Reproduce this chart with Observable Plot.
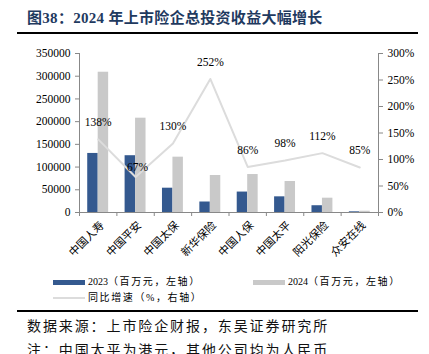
<!DOCTYPE html>
<html><head><meta charset="utf-8">
<script src="https://cdn.jsdelivr.net/npm/d3@7"></script>
<script src="https://cdn.jsdelivr.net/npm/@observablehq/plot@0.6"></script>
<style>
  html,body{margin:0;padding:0;background:#fff;}
  #wrap{position:relative;width:429px;height:354px;overflow:hidden;background:#fff;}
  #title{position:absolute;left:27px;top:6px;font:bold 15px "Liberation Serif","Noto Sans CJK SC",serif;color:#1f3a5f;white-space:nowrap;letter-spacing:0.3px;}
  .rule{position:absolute;left:17px;width:401px;height:2px;background:#000;}
  #chart{position:absolute;left:0;top:40px;}
  .lg{position:absolute;font:10px "Liberation Serif","Noto Sans CJK SC",serif;color:#000;white-space:nowrap;line-height:12px;}
  .lg .cn{letter-spacing:1.6px;}
  .sw{position:absolute;}
  .src{position:absolute;left:27px;font:14px "Noto Sans CJK SC",sans-serif;color:#111;letter-spacing:1.9px;white-space:nowrap;line-height:18px;}
</style>
</head><body>
<div id="wrap">
  <div id="title"></div>
  <div class="rule" style="top:32px"></div>
  <div id="chart"></div>
  <div id="legend"></div>
  <div class="rule" style="top:310px"></div>
  <div class="src" style="top:316px" id="src1"></div>
  <div class="src" style="top:340px" id="src2"></div>
</div>
<script>
const titleText = "图38：2024 年上市险企总投资收益大幅增长";
const categories = ["中国人寿","中国平安","中国太保","新华保险","中国人保","中国太平","阳光保险","众安在线"];
const values2023 = [130000,125000,53500,23100,45000,34500,14900,1500];
const values2024 = [308800,207600,121800,81400,83600,68200,31500,2800];
const growth = [138,67,130,252,86,98,112,85];
const leftTicks = [0,50000,100000,150000,200000,250000,300000,350000];
const rightTicks = [0,50,100,150,200,250,300];
const seriesNames = ["2023（百万元，左轴）","2024（百万元，左轴）","同比增速（%，右轴）"];
const sourceText = "数据来源：上市险企财报，东吴证券研究所";
const noteText = "注：中国太平为港元，其他公司均为人民币";

const colors = ["#34598f","#c9c9c9","#dcdcdc"];
const K = 350000/300; // right-axis to left-axis factor
const W = 0.28;       // bar width in band units

document.getElementById("title").textContent = titleText;
document.getElementById("src1").textContent = sourceText;
document.getElementById("src2").textContent = noteText;

const rows = categories.map((c,i)=>({i, c, v23: values2023[i], v24: values2024[i], g: growth[i]}));

const chart = Plot.plot({
  width: 429, height: 235,
  marginTop: 13, marginBottom: 63, marginLeft: 79, marginRight: 51,
  style: {fontFamily: "'Liberation Serif','Times New Roman',serif", fontSize: "11.5px", color: "#000", background: "transparent", overflow: "visible"},
  x: {type: "linear", domain: [0, categories.length]},
  y: {domain: [0, 350000]},
  marks: [
    Plot.rectY(rows, {x1: d => d.i + 0.5 - W, x2: d => d.i + 0.5, y: "v23", fill: colors[0]}),
    Plot.rectY(rows, {x1: d => d.i + 0.5, x2: d => d.i + 0.5 + W, y: "v24", fill: colors[1]}),
    Plot.line(rows, {x: d => d.i + 0.5, y: d => d.g * K, stroke: colors[2], strokeWidth: 2}),
    Plot.text(rows.filter(d => d.i !== 1), {x: d => d.i + 0.5, y: d => d.g * K, text: d => d.g + "%", dy: -17, fill: "#000"}),
    Plot.text(rows.filter(d => d.i === 1), {x: d => d.i + 0.5, y: d => d.g * K, text: d => d.g + "%", dy: -10, dx: 2, fill: "#000"}),
    Plot.ruleX([0], {stroke: "#888"}),
    Plot.ruleX([categories.length], {stroke: "#888"}),
    Plot.ruleY([0], {stroke: "#888"}),
    Plot.axisY({ticks: leftTicks, tickFormat: d => String(d), tickSize: 4, tickPadding: 5, label: null, stroke: "#888", fill: "#000"}),
    Plot.axisY({anchor: "right", ticks: rightTicks.map(v => v * K), tickFormat: d => Math.round(d / K) + "%", tickSize: 4, tickPadding: 5, label: null, stroke: "#888", fill: "#000"}),
    Plot.axisX({ticks: d3.range(0, categories.length + 1), tickFormat: () => "", tickSize: 4, label: null, stroke: "#888"}),
    Plot.text(rows, {x: d => d.i + 0.5, y: 0, text: "c", rotate: -45, textAnchor: "end", dx: 4, dy: 11, fontFamily: "'Noto Sans CJK SC',sans-serif", fontSize: 11, fill: "#000"})
  ]
});
document.getElementById("chart").appendChild(chart);

// legend
const lg = document.getElementById("legend");
const items = [
  {name: seriesNames[0], color: colors[0], type: "bar", x: 53, y: 282},
  {name: seriesNames[1], color: colors[1], type: "bar", x: 253, y: 282},
  {name: seriesNames[2], color: colors[2], type: "line", x: 53, y: 298}
];
for (const it of items) {
  const sw = document.createElement("div");
  sw.className = "sw";
  sw.style.left = it.x + "px";
  sw.style.width = "32px";
  sw.style.background = it.color;
  if (it.type === "bar") { sw.style.top = (it.y - 2.5) + "px"; sw.style.height = "5px"; }
  else { sw.style.top = (it.y - 1) + "px"; sw.style.height = "1.5px"; }
  lg.appendChild(sw);
  const t = document.createElement("div");
  t.className = "lg";
  t.style.left = (it.x + 35) + "px";
  t.style.top = (it.y - 6) + "px";
  const m = it.name.match(/^(\d*)(.*)$/);
  if (m[1]) { const s = document.createElement("span"); s.textContent = m[1]; t.appendChild(s); }
  const c = document.createElement("span"); c.className = "cn"; c.textContent = m[2]; t.appendChild(c);
  lg.appendChild(t);
}
</script>
</body></html>
